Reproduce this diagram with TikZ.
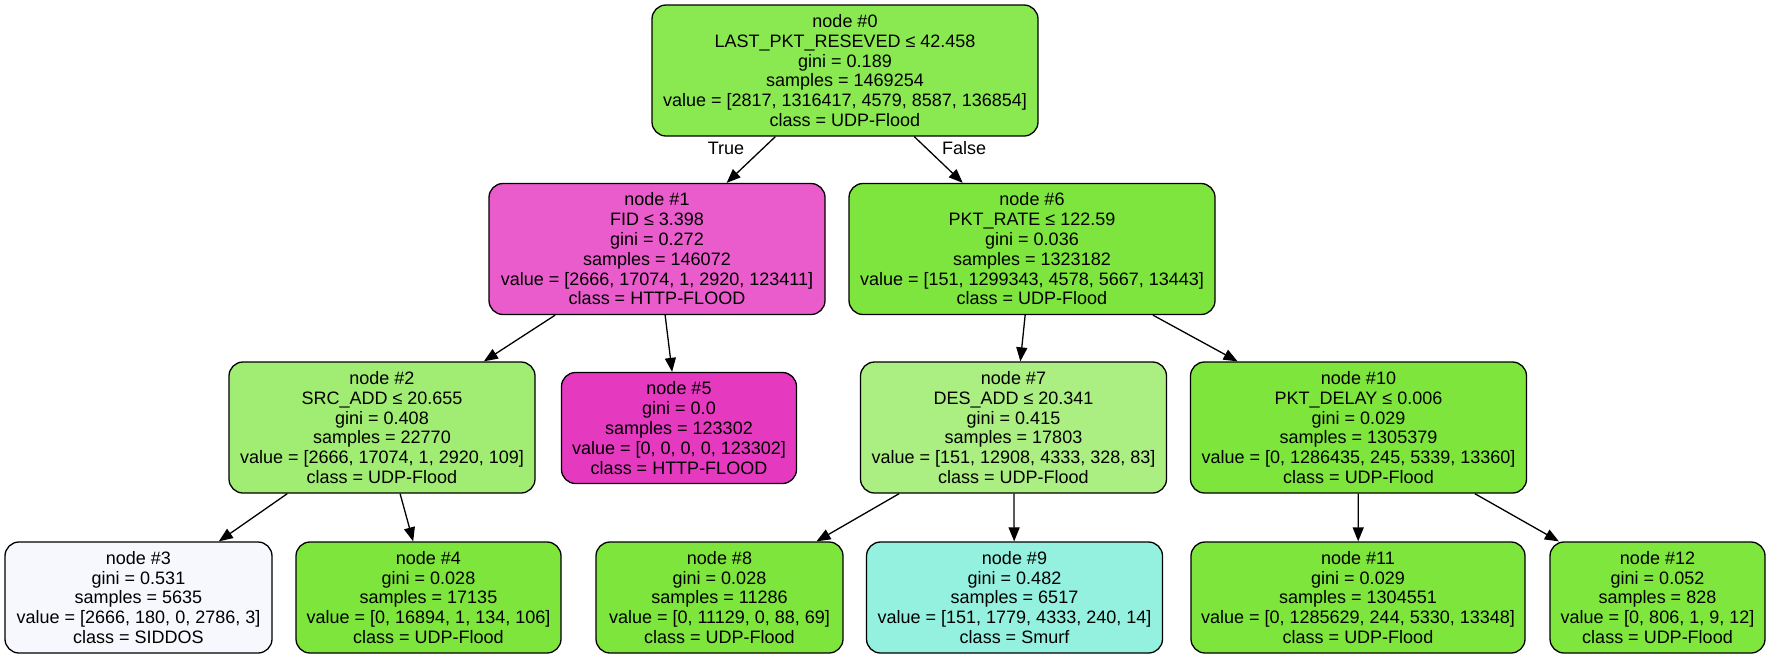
\documentclass[tikz,border=0pt]{standalone}
\usepackage{fontspec}
\setmainfont{Liberation Sans}
\usetikzlibrary{arrows.meta}
\definecolor{c0}{RGB}{138,232,80}
\definecolor{c1}{RGB}{234,92,203}
\definecolor{c2}{RGB}{161,236,114}
\definecolor{c3}{RGB}{247,247,254}
\definecolor{c4}{RGB}{125,229,60}
\definecolor{c5}{RGB}{229,57,192}
\definecolor{c6}{RGB}{125,229,61}
\definecolor{c7}{RGB}{171,238,129}
\definecolor{c8}{RGB}{125,229,60}
\definecolor{c9}{RGB}{148,241,224}
\definecolor{c10}{RGB}{125,229,60}
\definecolor{c11}{RGB}{125,229,60}
\definecolor{c12}{RGB}{127,230,62}
\begin{document}
\begin{tikzpicture}[x=1pt,y=-1pt,
  tnode/.style={draw=black, line width=1.3pt, rounded corners=14pt, align=center,
    inner sep=0pt, font=\fontsize{18}{19.8}\selectfont},
  six/.style={tnode, minimum height=131pt},
  five/.style={tnode, minimum height=111pt},
  edge/.style={draw=black, line width=1.3pt, -{Triangle[length=14pt,width=11pt]}},
  elabel/.style={font=\fontsize{18}{19.8}\selectfont, inner sep=0pt}]
\useasboundingbox (0,0) rectangle (1771,657);
\node[six, fill=c0, minimum width=386pt] (n0) at (845,70.5)
  {node \#0\\LAST\_PKT\_RESEVED ≤ 42.458\\gini = 0.189\\samples = 1469254\\value = [2817, 1316417, 4579, 8587, 136854]\\class = UDP-Flood};
\node[six, fill=c1, minimum width=336pt] (n1) at (657,249)
  {node \#1\\FID ≤ 3.398\\gini = 0.272\\samples = 146072\\value = [2666, 17074, 1, 2920, 123411]\\class = HTTP-FLOOD};
\node[six, fill=c6, minimum width=366pt] (n6) at (1032,249)
  {node \#6\\PKT\_RATE ≤ 122.59\\gini = 0.036\\samples = 1323182\\value = [151, 1299343, 4578, 5667, 13443]\\class = UDP-Flood};
\node[six, fill=c2, minimum width=306pt] (n2) at (382,427.5)
  {node \#2\\SRC\_ADD ≤ 20.655\\gini = 0.408\\samples = 22770\\value = [2666, 17074, 1, 2920, 109]\\class = UDP-Flood};
\node[five, fill=c5, minimum width=235pt] (n5) at (679,428)
  {node \#5\\gini = 0.0\\samples = 123302\\value = [0, 0, 0, 0, 123302]\\class = HTTP-FLOOD};
\node[six, fill=c7, minimum width=306pt] (n7) at (1013.5,427.5)
  {node \#7\\DES\_ADD ≤ 20.341\\gini = 0.415\\samples = 17803\\value = [151, 12908, 4333, 328, 83]\\class = UDP-Flood};
\node[six, fill=c10, minimum width=336pt] (n10) at (1358.5,427.5)
  {node \#10\\PKT\_DELAY ≤ 0.006\\gini = 0.029\\samples = 1305379\\value = [0, 1286435, 245, 5339, 13360]\\class = UDP-Flood};
\node[five, fill=c3, minimum width=267pt] (n3) at (138.5,597.5)
  {node \#3\\gini = 0.531\\samples = 5635\\value = [2666, 180, 0, 2786, 3]\\class = SIDDOS};
\node[five, fill=c4, minimum width=265pt] (n4) at (428.5,597.5)
  {node \#4\\gini = 0.028\\samples = 17135\\value = [0, 16894, 1, 134, 106]\\class = UDP-Flood};
\node[five, fill=c8, minimum width=247pt] (n8) at (719.5,597.5)
  {node \#8\\gini = 0.028\\samples = 11286\\value = [0, 11129, 0, 88, 69]\\class = UDP-Flood};
\node[five, fill=c9, minimum width=296pt] (n9) at (1014.5,597.5)
  {node \#9\\gini = 0.482\\samples = 6517\\value = [151, 1779, 4333, 240, 14]\\class = Smurf};
\node[five, fill=c11, minimum width=334pt] (n11) at (1358,597.5)
  {node \#11\\gini = 0.029\\samples = 1304551\\value = [0, 1285629, 244, 5330, 13348]\\class = UDP-Flood};
\node[five, fill=c12, minimum width=215pt] (n12) at (1657.5,597.5)
  {node \#12\\gini = 0.052\\samples = 828\\value = [0, 806, 1, 9, 12]\\class = UDP-Flood};
\draw[edge] (n0) -- (n1);
\draw[edge] (n0) -- (n6);
\draw[edge] (n1) -- (n2);
\draw[edge] (n1) -- (n5);
\draw[edge] (n2) -- (n3);
\draw[edge] (n2) -- (n4);
\draw[edge] (n6) -- (n7);
\draw[edge] (n6) -- (n10);
\draw[edge] (n7) -- (n8);
\draw[edge] (n7) -- (n9);
\draw[edge] (n10) -- (n11);
\draw[edge] (n10) -- (n12);
\node[elabel] (ltrue) at (726,148) {True};
\node[elabel] (lfalse) at (964,148) {False};
\end{tikzpicture}
\end{document}
